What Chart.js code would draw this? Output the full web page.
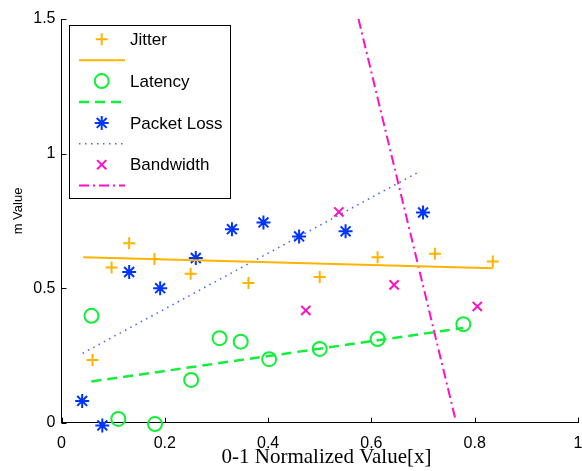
<!DOCTYPE html>
<html>
<head>
<meta charset="utf-8">
<script src="https://cdn.jsdelivr.net/npm/chart.js@4/dist/chart.umd.min.js"></script>
<style>
  html, body { margin: 0; padding: 0; background: #fff; }
</style>
</head>
<body>
<canvas id="mChart" width="582" height="471"></canvas>
<script>
// --- m Value vs normalized value scatter + fitted lines ---

// tick values
const xTicks = [0, 0.2, 0.4, 0.6, 0.8, 1];
const yTicks = [0, 0.5, 1, 1.5];

// series labels (legend)
const seriesNames = ['Jitter', 'Latency', 'Packet Loss', 'Bandwidth'];

// scatter points
const jitterX  = [0.060, 0.097, 0.131, 0.180, 0.250, 0.362, 0.500, 0.612, 0.723, 0.835];
const jitterY  = [0.233, 0.577, 0.667, 0.608, 0.553, 0.519, 0.541, 0.615, 0.628, 0.599];
const latencyX = [0.058, 0.110, 0.181, 0.251, 0.306, 0.347, 0.402, 0.500, 0.612, 0.778];
const latencyY = [0.397, 0.014, -0.005, 0.159, 0.314, 0.301, 0.236, 0.274, 0.311, 0.366];
const lossX    = [0.040, 0.079, 0.131, 0.191, 0.260, 0.330, 0.391, 0.460, 0.550, 0.700];
const lossY    = [0.081, -0.010, 0.560, 0.500, 0.612, 0.719, 0.744, 0.692, 0.711, 0.781];
const bwX      = [0.473, 0.537, 0.644, 0.805];
const bwY      = [0.417, 0.783, 0.512, 0.432];

// fitted lines (start / end)
const jitterFitX  = [0.042, 0.835];
const jitterFitY  = [0.615, 0.574];
const latencyFitX = [0.058, 0.778];
const latencyFitY = [0.153, 0.352];
const lossFitX    = [0.041, 0.694];
const lossFitY    = [0.258, 0.934];
const bwFitX      = [0.575, 0.763];
const bwFitY      = [1.5, 0.01];

const ORANGE = '#FFB300';
const GREEN = '#12EE3A';
const BLUE = '#0035FF';
const BLUE_LINE = '#3A66FF';
const MAGENTA = '#FF10C4';

const pts = (xs, ys) => xs.map((x, i) => ({ x: x, y: ys[i] }));

function markerSet(label, xs, ys, style, radius, color) {
    return {
        label: label,
        data: pts(xs, ys),
        pointStyle: style,
        pointRadius: radius,
        pointHoverRadius: radius,
        pointBorderWidth: 2,
        pointBorderColor: color,
        pointBackgroundColor: 'rgba(0,0,0,0)',
        borderColor: color,
        showLine: false,
        clip: false
    };
}

function fitSet(xs, ys, color, dash, width) {
    return {
        label: '',
        data: pts(xs, ys),
        showLine: true,
        borderColor: color,
        borderWidth: width,
        borderDash: dash,
        pointRadius: 0,
        pointHoverRadius: 0,
        fill: false,
        tension: 0
    };
}

// legend rows: marker row then line row for each series
const legendRows = [
    { kind: 'mark', style: 'cross', r: 6, color: ORANGE, text: seriesNames[0] },
    { kind: 'line', color: ORANGE, dash: [], w: 2 },
    { kind: 'mark', style: 'circle', r: 7, color: GREEN, text: seriesNames[1] },
    { kind: 'line', color: GREEN, dash: [10, 6], w: 2.5 },
    { kind: 'mark', style: 'star', r: 7, color: BLUE, text: seriesNames[2] },
    { kind: 'line', color: BLUE_LINE, dash: [1.5, 4.5], w: 1.5 },
    { kind: 'mark', style: 'crossRot', r: 6.5, color: MAGENTA, text: seriesNames[3] },
    { kind: 'line', color: MAGENTA, dash: [10, 4, 2, 4], w: 2 }
];

// MATLAB 스타일: 안쪽 눈금 + 축 제목 + 범례 박스
const matlabLook = {
    id: 'matlabLook',
    afterDraw(chart) {
        const ctx = chart.ctx;
        const a = chart.chartArea;
        const xs = chart.scales.x, ys = chart.scales.y;
        ctx.save();
        ctx.strokeStyle = '#000';
        ctx.lineWidth = 1;
        ctx.setLineDash([]);
        ctx.beginPath();
        xTicks.forEach(v => {
            const px = Math.round(xs.getPixelForValue(v)) + 0.5;
            ctx.moveTo(px, a.bottom);
            ctx.lineTo(px, a.bottom - 5);
        });
        yTicks.forEach(v => {
            const py = Math.round(ys.getPixelForValue(v)) + 0.5;
            ctx.moveTo(a.left, py);
            ctx.lineTo(a.left + 5, py);
        });
        ctx.stroke();

        // x축 제목 (가운데보다 약간 오른쪽)
        ctx.fillStyle = '#000';
        ctx.font = '21px "Liberation Serif", "Times New Roman", serif';
        ctx.textAlign = 'center';
        ctx.textBaseline = 'middle';
        ctx.fillText('0-1 Normalized Value[x]', 326.5, 457);

        // y축 제목 (살짝 위쪽으로 치우쳐 있음)
        ctx.save();
        ctx.translate(18, 211);
        ctx.rotate(-Math.PI / 2);
        ctx.font = '13px "Liberation Sans", Arial, sans-serif';
        ctx.fillText('m Value', 0, 0);
        ctx.restore();

        // legend box
        const bx = 69.5, by = 25.5, bw = 161, bh = 173;
        ctx.fillStyle = '#fff';
        ctx.fillRect(bx, by, bw, bh);
        ctx.strokeRect(bx, by, bw, bh);

        const rowTop = 39.3, rowStep = 20.9;
        ctx.font = '17px "Liberation Sans", Arial, sans-serif';
        ctx.textBaseline = 'middle';
        ctx.textAlign = 'left';
        legendRows.forEach((row, i) => {
            const ry = rowTop + i * rowStep;
            if (row.kind === 'mark') {
                ctx.strokeStyle = row.color;
                ctx.fillStyle = 'rgba(0,0,0,0)';
                ctx.lineWidth = 2;
                ctx.setLineDash([]);
                Chart.helpers.drawPoint(ctx, { pointStyle: row.style, radius: row.r, rotation: 0, borderWidth: 2 }, 101.7, ry);
                ctx.fillStyle = '#000';
                ctx.fillText(row.text, 130, ry + 1);
            } else {
                ctx.strokeStyle = row.color;
                ctx.lineWidth = row.w;
                ctx.setLineDash(row.dash);
                ctx.beginPath();
                ctx.moveTo(79, ry);
                ctx.lineTo(125, ry);
                ctx.stroke();
            }
        });
        ctx.restore();
    }
};

Chart.defaults.font.family = '"Liberation Sans", Arial, sans-serif';
Chart.defaults.color = '#000';

const ctx = document.getElementById('mChart').getContext('2d');
const mChart = new Chart(ctx, {
    type: 'scatter',
    data: {
        datasets: [
            markerSet(seriesNames[0], jitterX, jitterY, 'cross', 6, ORANGE),
            fitSet(jitterFitX, jitterFitY, ORANGE, [], 2),
            markerSet(seriesNames[1], latencyX, latencyY, 'circle', 7, GREEN),
            fitSet(latencyFitX, latencyFitY, GREEN, [10, 6], 2.5),
            markerSet(seriesNames[2], lossX, lossY, 'star', 7, BLUE),
            fitSet(lossFitX, lossFitY, BLUE_LINE, [1.5, 4.5], 1.5),
            markerSet(seriesNames[3], bwX, bwY, 'crossRot', 6.5, MAGENTA),
            fitSet(bwFitX, bwFitY, MAGENTA, [10, 4, 2, 4], 2)
        ]
    },
    options: {
        responsive: false,
        animation: false,
        layout: { autoPadding: false, padding: { top: 19, right: 4, left: 0, bottom: 0 } },
        plugins: {
            legend: { display: false },
            tooltip: { enabled: false }
        },
        scales: {
            x: {
                type: 'linear',
                min: 0,
                max: 1,
                afterBuildTicks: s => { s.ticks = xTicks.map(v => ({ value: v })); },
                afterFit: s => { s.height = 48.3; s.paddingRight = 0; s.paddingLeft = 0; },
                grid: { display: false, drawTicks: false },
                border: { display: true, color: '#000', width: 1 },
                ticks: {
                    padding: 11,
                    font: { size: 16 },
                    maxRotation: 0,
                    callback: v => String(Number(v.toFixed(1)))
                },
                title: { display: false }
            },
            y: {
                type: 'linear',
                min: 0,
                max: 1.5,
                afterBuildTicks: s => { s.ticks = yTicks.map(v => ({ value: v })); },
                afterFit: s => { s.width = 61.5; },
                grid: { display: false, drawTicks: false },
                border: { display: true, color: '#000', width: 1 },
                ticks: {
                    padding: 6,
                    font: { size: 16 },
                    callback: v => String(Number(v.toFixed(1)))
                },
                title: { display: false }
            }
        }
    },
    plugins: [matlabLook]
});
</script>
</body>
</html>
